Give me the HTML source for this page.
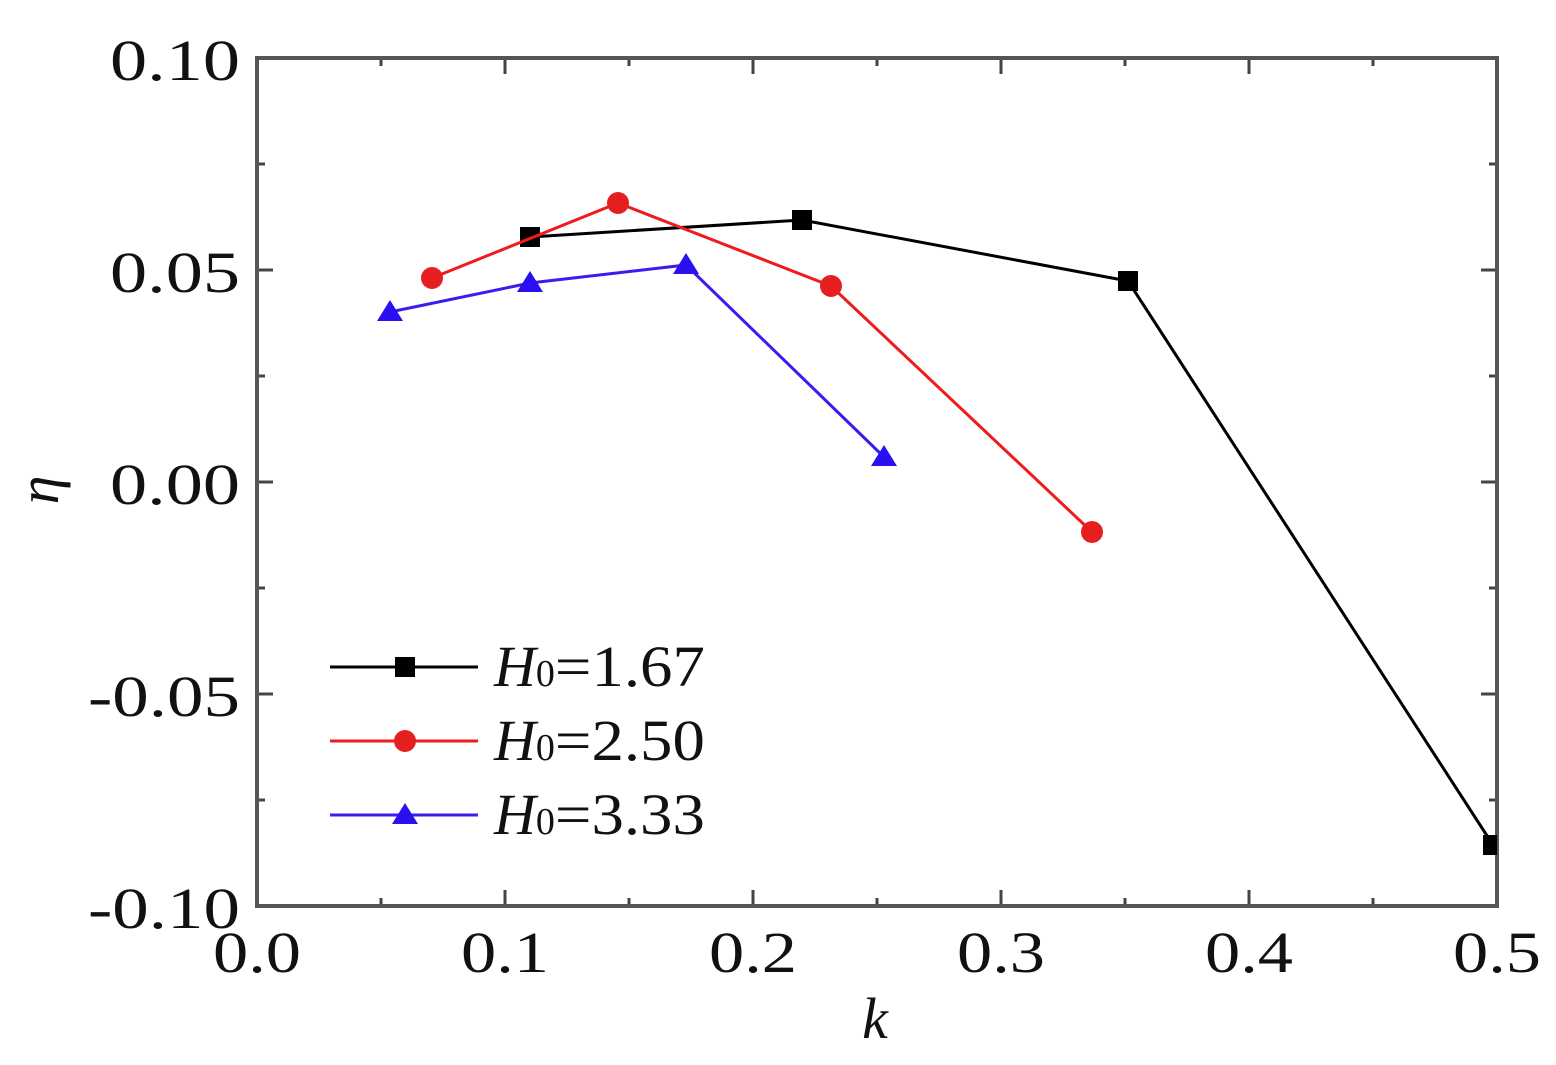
<!DOCTYPE html>
<html><head><meta charset="utf-8"><style>html,body{margin:0;padding:0;background:#fff}svg{display:block}</style></head>
<body>
<svg width="1556" height="1065" xmlns="http://www.w3.org/2000/svg" font-family="Liberation Serif, serif">
<defs><clipPath id="c"><rect x="257" y="58" width="1240" height="848"/></clipPath></defs>
<g stroke="#444" stroke-width="3">
<path d="M257 906v-16M505 906v-16M753 906v-16M1001 906v-16M1249 906v-16M1497 906v-16
M381 906v-8M629 906v-8M877 906v-8M1125 906v-8M1373 906v-8
M257 58v16M505 58v16M753 58v16M1001 58v16M1249 58v16M1497 58v16
M381 58v8M629 58v8M877 58v8M1125 58v8M1373 58v8
M257 58h16M257 270h16M257 482h16M257 694h16M257 906h16
M257 164h8M257 376h8M257 588h8M257 800h8
M1497 58h-16M1497 270h-16M1497 482h-16M1497 694h-16M1497 906h-16
M1497 164h-8M1497 376h-8M1497 588h-8M1497 800h-8"/>
</g>
<rect x="257" y="58" width="1240" height="848" fill="none" stroke="#555" stroke-width="4"/>
<g clip-path="url(#c)">
<polyline points="530,237 802,220 1128,281 1493,845" fill="none" stroke="#000" stroke-width="3"/>
<g fill="#000"><rect x="520" y="227" width="20" height="20"/><rect x="792" y="210" width="20" height="20"/><rect x="1118" y="271" width="20" height="20"/><rect x="1483" y="835" width="20" height="20"/></g>
<polyline points="432,278 618,203 831,286 1092,532" fill="none" stroke="#ee1c1c" stroke-width="3"/>
<g fill="#e51f1f"><circle cx="432" cy="278" r="11"/><circle cx="618" cy="203" r="11"/><circle cx="831" cy="286" r="11"/><circle cx="1092" cy="532" r="11"/></g>
<polyline points="390,312 530,283 686,265 884,457" fill="none" stroke="#3a1cf0" stroke-width="3"/>
<g fill="#2a10f0"><path d="M390 300l13 21h-26z"/><path d="M530 271l13 21h-26z"/><path d="M686 253l13 21h-26z"/><path d="M884 445l13 21h-26z"/></g>
</g>
<g font-size="58" fill="#111" lengthAdjust="spacingAndGlyphs">
<text x="110" y="80" textLength="130" lengthAdjust="spacingAndGlyphs">0.10</text>
<text x="110" y="292" textLength="130" lengthAdjust="spacingAndGlyphs">0.05</text>
<text x="110" y="504" textLength="130" lengthAdjust="spacingAndGlyphs">0.00</text>
<text x="88" y="716" textLength="152" lengthAdjust="spacingAndGlyphs">-0.05</text>
<text x="88" y="928" textLength="152" lengthAdjust="spacingAndGlyphs">-0.10</text>
<text x="213" y="972" textLength="88" lengthAdjust="spacingAndGlyphs">0.0</text>
<text x="461" y="972" textLength="88" lengthAdjust="spacingAndGlyphs">0.1</text>
<text x="709" y="972" textLength="88" lengthAdjust="spacingAndGlyphs">0.2</text>
<text x="957" y="972" textLength="88" lengthAdjust="spacingAndGlyphs">0.3</text>
<text x="1205" y="972" textLength="88" lengthAdjust="spacingAndGlyphs">0.4</text>
<text x="1453" y="972" textLength="88" lengthAdjust="spacingAndGlyphs">0.5</text>
<text x="875" y="1038" font-style="italic" text-anchor="middle">k</text>
<text x="58" y="490" font-style="italic" text-anchor="middle" transform="rotate(-90 58 490)">η</text>
</g>
<g stroke-width="3">
<line x1="330" y1="667" x2="478" y2="667" stroke="#000"/><rect x="395" y="657" width="20" height="20" fill="#000"/>
<line x1="330" y1="741" x2="478" y2="741" stroke="#ee1c1c"/><circle cx="405" cy="741" r="11" fill="#e51f1f"/>
<line x1="330" y1="815" x2="478" y2="815" stroke="#3a1cf0"/><path d="M405 803l13 21h-26z" fill="#2a10f0"/>
</g>
<g font-size="58" fill="#111">
<text x="494" y="686"><tspan font-style="italic">H</tspan><tspan font-size="38">0</tspan><tspan textLength="150" lengthAdjust="spacingAndGlyphs">=1.67</tspan></text>
<text x="494" y="760"><tspan font-style="italic">H</tspan><tspan font-size="38">0</tspan><tspan textLength="150" lengthAdjust="spacingAndGlyphs">=2.50</tspan></text>
<text x="494" y="834"><tspan font-style="italic">H</tspan><tspan font-size="38">0</tspan><tspan textLength="150" lengthAdjust="spacingAndGlyphs">=3.33</tspan></text>
</g>
</svg>
</body></html>
